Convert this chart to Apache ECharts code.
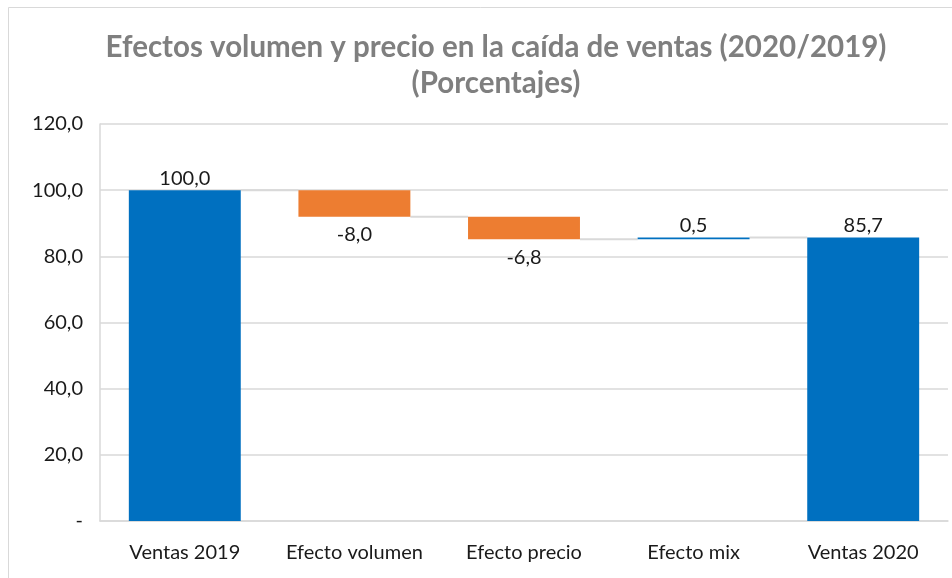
<!DOCTYPE html>
<html>
<head>
<meta charset="utf-8">
<script src="https://cdn.jsdelivr.net/npm/echarts@6/dist/echarts.min.js"></script>
<style>
  html, body { margin: 0; padding: 0; background: #fff; }
  #chart { width: 952px; height: 578px; }
</style>
</head>
<body>
<div id="chart"></div>
<script>
// datos del gráfico
var categorias = ['Ventas 2019', 'Efecto volumen', 'Efecto precio', 'Efecto mix', 'Ventas 2020'];
var valores = [100.0, -8.0, -6.8, 0.5, 85.7];
var esTotal = [true, false, false, false, true];
var ticksY = [0, 20, 40, 60, 80, 100, 120];

// base invisible + altura visible para cada barra
var base = [], altura = [], nivel = [];
var acumulado = 0;
for (var i = 0; i < valores.length; i++) {
    if (esTotal[i]) {
        base.push(0);
        altura.push(valores[i]);
        acumulado = valores[i];
    } else {
        var fin = acumulado + valores[i];
        base.push(Math.min(acumulado, fin));
        altura.push(Math.abs(valores[i]));
        acumulado = fin;
    }
    nivel.push(acumulado);
}

function fmt(v) {
    return v.toFixed(1).replace('.', ',');
}

var AZUL = '#0070C0';
var NARANJA = '#ED7D31';
var FUENTE = 'Lato';
var TAM = 20;

var myChart = echarts.init(document.getElementById('chart'));
var option = {
    backgroundColor: '#fff',
    animation: false,
    title: {
        text: 'Efectos volumen y precio en la caída de ventas (2020/2019)\n(Porcentajes)',
        left: 491,
        textAlign: 'center',
        top: 24,
        textStyle: {
            color: '#7f7f7f',
            fontSize: 29.5,
            fontWeight: 'bold',
            fontFamily: FUENTE,
            lineHeight: 36
        }
    },
    graphic: [{
        type: 'rect',
        shape: { x: 8.5, y: 7.5, width: 960, height: 600 },
        style: { fill: 'none', stroke: '#d9d9d9', lineWidth: 1 },
        silent: true
    }],
    grid: { left: 100, right: 4, top: 124, bottom: 57 },
    xAxis: {
        type: 'category',
        data: categorias,
        axisTick: { show: false },
        axisLine: { lineStyle: { color: '#d9d9d9', width: 1.5 } },
        axisLabel: { interval: 0, color: '#1a1a1a', fontSize: TAM, fontFamily: FUENTE, margin: 22 }
    },
    yAxis: {
        type: 'value',
        min: 0,
        max: 120,
        interval: 20,
        axisLine: { show: true, lineStyle: { color: '#d9d9d9', width: 1.5 } },
        axisTick: { show: false },
        splitLine: { lineStyle: { color: '#d9d9d9', width: 1.5 } },
        axisLabel: {
            color: '#1a1a1a',
            fontSize: TAM,
            fontFamily: FUENTE,
            margin: 17,
            formatter: function (v) { return v === 0 ? '-' : fmt(v); }
        }
    },
    series: [
        {
            name: 'base',
            type: 'bar',
            stack: 'cascada',
            data: base,
            barWidth: '66%',
            itemStyle: { color: 'transparent' },
            silent: true
        },
        {
            name: 'valor',
            type: 'bar',
            stack: 'cascada',
            barWidth: '66%',
            data: altura.map(function (h, i) {
                var negativo = valores[i] < 0;
                return {
                    value: h,
                    itemStyle: { color: negativo ? NARANJA : AZUL },
                    label: {
                        show: true,
                        position: negativo ? 'bottom' : 'top',
                        distance: negativo ? 8 : 2,
                        formatter: fmt(valores[i]),
                        color: '#1a1a1a',
                        fontSize: TAM,
                        fontFamily: FUENTE
                    }
                };
            })
        },
        {
            // líneas de conexión entre barras
            name: 'conectores',
            type: 'custom',
            silent: true,
            z: 1,
            data: nivel.slice(0, nivel.length - 1).map(function (n, i) { return [i, n]; }),
            renderItem: function (params, api) {
                var i = api.value(0);
                var y = api.value(1);
                var p1 = api.coord([i, y]);
                var p2 = api.coord([i + 1, y]);
                var mitad = api.size([1, 0])[0] * 0.33;
                return {
                    type: 'line',
                    shape: { x1: p1[0] + mitad, y1: p1[1], x2: p2[0] - mitad, y2: p2[1] },
                    style: { stroke: '#d9d9d9', lineWidth: 2 }
                };
            }
        }
    ]
};
myChart.setOption(option);
</script>
</body>
</html>
